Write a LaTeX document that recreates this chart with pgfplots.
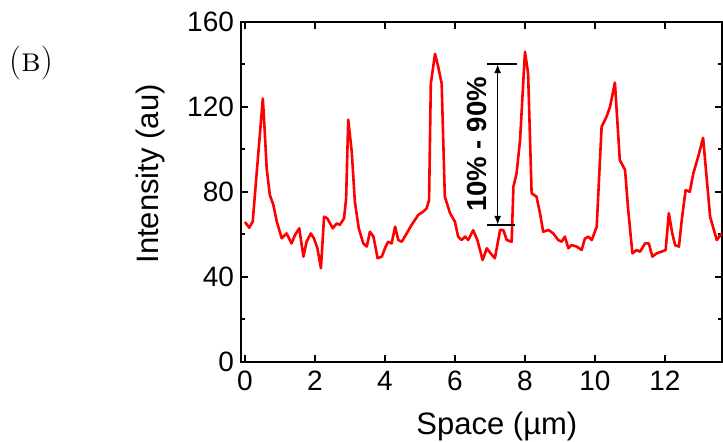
\documentclass[border=0pt]{standalone}
\usepackage{fontspec}
\newfontfamily\arial{Liberation Sans}
\usepackage{pgfplots}
\pgfplotsset{compat=1.18}
\usetikzlibrary{arrows.meta}

\begin{document}
\begin{tikzpicture}
\path[use as bounding box] (-120.5pt,-40pt) rectangle (241pt,181pt);
\node[font=\fontsize{17}{19}\selectfont] at (-105pt,149.5pt) {(\textsc{b})};
\begin{axis}[
    at={(0,0)}, anchor=south west,
    scale only axis,
    width=240.5pt, height=170pt,
    xmin=-0.114, xmax=13.63,
    ymin=0, ymax=160,
    xtick={0,2,...,12},
    ytick={0,40,...,160},
    minor ytick={20,60,100,140},
    tick align=inside,
    xtick pos=both, ytick pos=both,
    major tick length=3.5pt,
    minor tick length=2pt,
    axis line style={line width=1pt},
    every tick/.style={black, line width=1pt},
    /pgf/number format/assume math mode=true,
    tick label style={font=\arial\fontsize{14}{16}\selectfont},
    xticklabel style={yshift=-1pt},
    xlabel={Space (µm)},
    ylabel={Intensity (au)},
    label style={font=\arial\fontsize{15.5}{18}\selectfont},
    xlabel style={at={(axis description cs:0.532,-0.191)}, anchor=center},
    ylabel style={at={(axis description cs:-0.189,0.553)}, anchor=center},
]
\addplot[color=red, line width=1.3pt, line join=round] coordinates {
    (0.00,65.9) (0.12,63.2) (0.22,66.0) (0.51,124.0) (0.57,106.8) (0.62,91.0)
    (0.71,78.6) (0.81,73.9) (0.91,66.0) (1.05,58.2) (1.19,60.5) (1.33,55.8)
    (1.43,59.8) (1.55,62.9) (1.67,49.6) (1.76,56.6) (1.88,60.5) (1.97,58.2)
    (2.07,53.5) (2.17,44.1) (2.26,68.4) (2.35,67.6) (2.51,62.9) (2.62,65.2)
    (2.71,64.5) (2.83,67.6) (2.89,77.0) (2.95,114.0) (3.05,99.0) (3.14,75.4)
    (3.25,63.0) (3.38,55.8) (3.48,54.3) (3.57,61.3) (3.67,59.0) (3.79,48.8)
    (3.91,49.6) (4.02,54.3) (4.09,56.6) (4.19,55.8) (4.29,63.7) (4.38,57.4)
    (4.48,56.6) (4.62,60.5) (4.76,64.5) (4.95,69.2) (5.09,70.7) (5.19,72.3)
    (5.26,76.2) (5.31,131.0) (5.43,145.0) (5.52,139.0) (5.62,131.0) (5.71,77.8)
    (5.86,70.0) (6.00,66.0) (6.09,59.0) (6.19,57.4) (6.29,59.0) (6.38,57.4)
    (6.52,62.0) (6.64,57.4) (6.79,48.0) (6.91,53.5) (7.02,51.1) (7.14,48.8)
    (7.29,62.1) (7.38,62.1) (7.48,57.4) (7.62,56.6) (7.67,82.5) (7.76,88.7)
    (7.86,104.5) (8.00,146.0) (8.09,135.8) (8.19,79.4) (8.33,77.8) (8.43,70.0)
    (8.52,61.3) (8.67,62.1) (8.81,60.5) (8.95,57.4) (9.05,56.6) (9.14,59.0)
    (9.24,53.5) (9.33,55.0) (9.48,54.3) (9.62,52.7) (9.71,58.0) (9.81,59.0)
    (9.91,57.4) (10.05,63.7) (10.19,110.7) (10.33,115.4) (10.43,120.1) (10.57,131.5)
    (10.71,95.0) (10.86,90.4) (10.95,71.5) (11.07,51.1) (11.19,52.7) (11.29,51.9)
    (11.43,55.8) (11.54,55.8) (11.64,49.6) (11.76,51.1) (11.90,51.9) (12.02,52.7)
    (12.11,70.0) (12.21,60.5) (12.29,55.0) (12.40,54.3) (12.48,66.8) (12.59,80.9)
    (12.71,80.1) (12.81,88.7) (12.95,96.6) (13.09,105.5) (13.29,68.4) (13.48,57.4)
    (13.62,60.5)
};
% 10%-90% annotation
\draw[line width=1pt] (axis cs:6.91,140.2) -- (axis cs:7.77,140.2);
\draw[line width=1pt] (axis cs:6.91,64.5) -- (axis cs:7.71,64.5);
\draw[line width=0.8pt, {Latex[length=4.5pt,width=3.5pt]}-{Latex[length=4.5pt,width=3.5pt]}]
    (axis cs:7.22,140.2) -- (axis cs:7.22,64.5);
\node[rotate=90, font=\arial\bfseries\fontsize{13.8}{16}\selectfont]
    at (axis cs:6.63,102.4) {10\% - 90\%};
\end{axis}
\end{tikzpicture}
\end{document}
